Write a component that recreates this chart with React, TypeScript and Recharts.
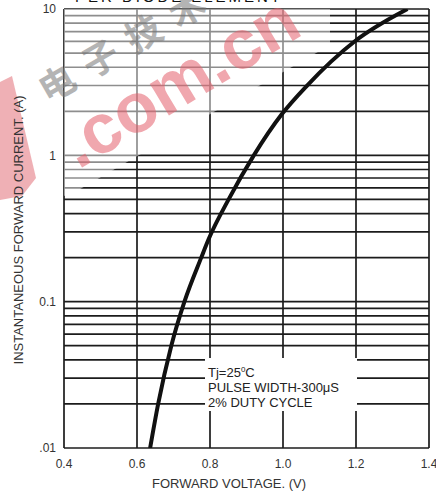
import {
  ComposedChart,
  Line,
  XAxis,
  YAxis,
  CartesianGrid,
  Customized,
} from "recharts";

// forward current (A) vs forward voltage (V)
const current = [0.01, 0.02, 0.05, 0.1, 0.2, 0.27, 0.5, 1, 1.9, 3, 6, 10];
const voltage = [0.636, 0.658, 0.694, 0.73, 0.776, 0.797, 0.851, 0.92, 0.996, 1.066, 1.196, 1.341];

const xTicks = [0.4, 0.6, 0.8, 1.0, 1.2, 1.4];
const yTicks = [0.01, 0.1, 1, 10];
const decades = [0.01, 0.1, 1];
const minorSteps = [2, 3, 4, 5, 6, 7, 8, 9];

const data = voltage.map((v, i) => ({ v, i: current[i] }));
const gridY = [...yTicks, ...decades.flatMap((d) => minorSteps.map((m) => +(d * m).toPrecision(2)))].sort(
  (a, b) => a - b
);

const font = "Arial, 'Liberation Sans', sans-serif";

function Overlay() {
  return (
    <g>
      {/* watermark */}
      <polygon points="64,196 64,9 330,9 330,45 75,192" fill="#fff" opacity={0.5} />
      <polygon points="0,82 12,76 36,178 22,196 0,200" fill="#e57b84" opacity={0.6} />
      <text
        x={78}
        y={170}
        transform="rotate(-31 78 170)"
        fontFamily={font}
        fontWeight="bold"
        fontSize={70}
        fill="#e5606c"
        opacity={0.55}
      >
        .com.cn
      </text>
      <text
        x={48}
        y={104}
        transform="rotate(-30 48 104)"
        fontFamily="'Noto Sans CJK SC'"
        fontWeight="bold"
        fontSize={36}
        fill="#777"
        opacity={0.55}
        letterSpacing={14}
      >
        电子技术
      </text>
      {/* cut-off title */}
      <text
        x={75}
        y={2}
        fontFamily={font}
        fontSize={15}
        fill="#111"
        textLength={205}
        lengthAdjust="spacing"
      >
        PER DIODE ELEMENT
      </text>
      {/* test condition note */}
      <rect x={205} y={358} width={152} height={53} fill="#fff" />
      <text fontFamily={font} fontSize={13} fill="#222">
        <tspan x={208} y={377}>
          Tj=25<tspan fontSize={8} dy={-5}>0</tspan>
          <tspan dy={5}>C</tspan>
        </tspan>
        <tspan x={208} y={392}>PULSE WIDTH-300μS</tspan>
        <tspan x={208} y={407}>2% DUTY CYCLE</tspan>
      </text>
      {/* axis titles */}
      <text x={229} y={488} textAnchor="middle" fontFamily={font} fontSize={13} fill="#333">
        FORWARD VOLTAGE. (V)
      </text>
      <text
        x={23}
        y={230}
        transform="rotate(-90 23 230)"
        textAnchor="middle"
        fontFamily={font}
        fontSize={13}
        fill="#333"
      >
        INSTANTANEOUS FORWARD CURRENT. (A)
      </text>
    </g>
  );
}

export default function App() {
  return (
    <div style={{ position: "absolute", left: 0, top: 0, width: 436, height: 492, background: "#fff" }}>
      <ComposedChart
        width={436}
        height={492}
        data={data}
        margin={{ top: 9, right: 7, left: 8, bottom: 14 }}
      >
        <CartesianGrid
          horizontalValues={gridY}
          verticalValues={xTicks}
          stroke="#1c1c1c"
          strokeWidth={1.7}
          strokeDasharray=""
        />
        <XAxis
          type="number"
          dataKey="v"
          domain={[0.4, 1.4]}
          ticks={xTicks}
          interval={0}
          tickFormatter={(t: number) => t.toFixed(1)}
          tickLine={false}
          axisLine={false}
          height={30}
          tick={{ fontSize: 12, fill: "#333", fontFamily: font, dy: 3 }}
        />
        <YAxis
          type="number"
          scale="log"
          domain={[0.01, 10]}
          ticks={yTicks}
          interval={0}
          allowDataOverflow
          tickFormatter={(t: number) => (t === 0.01 ? ".01" : String(t))}
          tickLine={false}
          axisLine={false}
          width={56}
          tick={{ fontSize: 12, fill: "#333", fontFamily: font }}
        />
        <Customized component={Overlay} />
        <Line
          type="monotone"
          dataKey="i"
          stroke="#111"
          strokeWidth={4}
          dot={false}
          isAnimationActive={false}
        />
      </ComposedChart>
    </div>
  );
}
